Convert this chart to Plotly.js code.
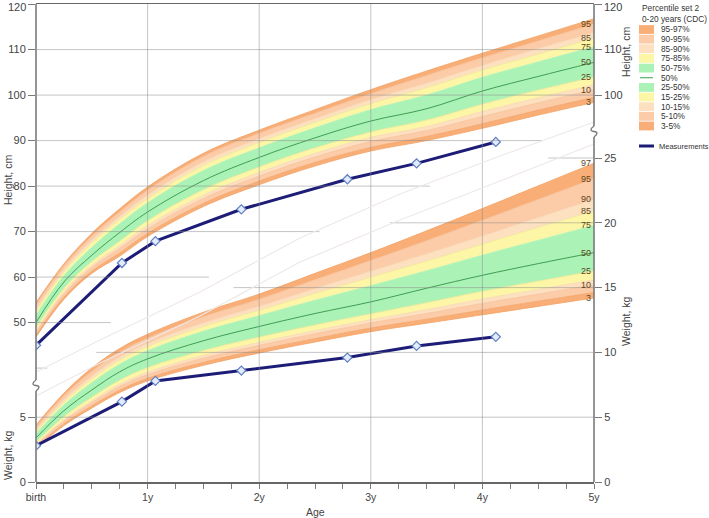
<!DOCTYPE html>
<html><head><meta charset="utf-8">
<script src="https://cdn.plot.ly/plotly-3.0.1.min.js"></script>
<style>html,body{margin:0;padding:0;background:#fff;}#chart{width:709px;height:518px;}</style>
</head><body><div id="chart"></div>
<script>
// ---------- DATA ----------
const ages = [0, 0.25, 0.5, 0.75, 1, 1.5, 2, 2.5, 3, 3.5, 4, 4.5, 5];

// Height percentiles (cm)
const hP3  = [46.8, 55.1, 60.8, 64.6, 68.9, 75.5, 80.3, 84.4, 87.7, 90.0, 92.7, 95.6, 98.4];
const hP5  = [47.2, 55.6, 61.3, 65.3, 69.6, 76.2, 81.1, 85.2, 88.5, 90.9, 93.7, 96.7, 99.5];
const hP10 = [47.8, 56.3, 62.1, 66.3, 70.6, 77.3, 82.2, 86.4, 89.8, 92.2, 95.3, 98.3, 101.2];
const hP15 = [48.2, 56.8, 62.6, 66.9, 71.3, 78.0, 83.0, 87.2, 90.7, 93.1, 96.4, 99.4, 102.3];
const hP25 = [48.9, 57.5, 63.4, 67.9, 72.4, 79.2, 84.2, 88.4, 91.9, 94.5, 98.0, 101.1, 104.0];
const hP50 = [50.0, 58.9, 64.8, 69.8, 74.3, 81.2, 86.3, 90.6, 94.3, 97.0, 100.9, 104.1, 107.2];
const hP75 = [51.6, 60.3, 66.5, 71.7, 76.3, 83.4, 88.4, 92.8, 96.8, 100.0, 103.9, 107.3, 110.6];
const hP85 = [52.4, 61.1, 67.5, 72.7, 77.3, 84.5, 89.6, 94.0, 98.1, 101.6, 105.5, 109.0, 112.5];
const hP90 = [53.0, 61.6, 68.1, 73.3, 78.0, 85.3, 90.4, 94.8, 99.0, 102.6, 106.5, 110.2, 113.7];
const hP95 = [53.9, 62.4, 69.0, 74.3, 79.1, 86.5, 91.6, 96.0, 100.3, 104.3, 108.2, 111.9, 115.6];
const hP97 = [54.4, 62.9, 69.6, 75.0, 79.8, 87.2, 92.3, 96.8, 101.2, 105.3, 109.2, 113.0, 116.8];

// Weight percentiles (kg)
const wP3  = [2.60, 4.35, 5.70, 6.90, 7.80, 9.00, 9.95, 10.80, 11.60, 12.25, 12.90, 13.55, 14.20];
const wP5  = [2.70, 4.48, 5.87, 7.09, 8.00, 9.23, 10.20, 11.06, 11.88, 12.56, 13.27, 13.95, 14.62];
const wP10 = [2.83, 4.68, 6.11, 7.36, 8.29, 9.55, 10.54, 11.44, 12.27, 13.00, 13.78, 14.50, 15.21];
const wP15 = [2.92, 4.80, 6.26, 7.54, 8.48, 9.76, 10.77, 11.68, 12.52, 13.30, 14.12, 14.86, 15.60];
const wP25 = [3.08, 5.04, 6.54, 7.86, 8.82, 10.14, 11.18, 12.12, 12.98, 13.84, 14.72, 15.50, 16.30];
const wP50 = [3.40, 5.50, 7.10, 8.50, 9.50, 10.90, 12.00, 13.00, 13.90, 14.95, 15.95, 16.85, 17.70];
const wP75 = [3.73, 5.95, 7.66, 9.09, 10.13, 11.63, 12.83, 14.02, 15.15, 16.30, 17.50, 18.65, 19.80];
const wP85 = [3.90, 6.18, 7.95, 9.40, 10.45, 12.00, 13.25, 14.55, 15.80, 17.05, 18.35, 19.65, 20.90];
const wP90 = [4.02, 6.35, 8.15, 9.62, 10.68, 12.26, 13.55, 14.92, 16.26, 17.60, 18.98, 20.40, 21.80];
const wP95 = [4.24, 6.65, 8.53, 10.01, 11.10, 12.75, 14.10, 15.60, 17.09, 18.62, 20.20, 21.80, 23.40];
const wP97 = [4.40, 6.85, 8.80, 10.30, 11.40, 13.10, 14.50, 16.10, 17.70, 19.38, 21.10, 22.85, 24.60];

// Measurements
const measAges    = [0, 0.77, 1.07, 1.84, 2.79, 3.41, 4.12];
const measHeights = [45.0, 63.1, 67.9, 74.9, 81.5, 85.0, 89.7];
const measWeights = [2.8, 6.2, 7.8, 8.6, 9.6, 10.5, 11.2];

// Tick labels
const xTickVals = [0, 1, 2, 3, 4, 5];
const xTickText = ['birth', '1y', '2y', '3y', '4y', '5y'];
const hLeftTicks = [50, 60, 70, 80, 90, 100, 110, 120];
const hLeftText  = ['50', '60', '70', '80', '90', '100', '110', ''];
const wLeftTicks = [0, 5];
const hRightTicks = [100, 110, 120];
const hRightText  = ['100', '110', ''];
const wRightTicks = [0, 5, 10, 15, 20, 25];
const topTickLabel = '120';

const pctNames = ['3','5','10','15','25','50','75','85','90','95','97'];
const hLabelPcts = ['95','85','75','50','25','10','3'];
const wLabelPcts = ['97','95','90','85','75','50','25','10','3'];
const legendLabels = ['95-97%','90-95%','85-90%','75-85%','50-75%','50%','25-50%','15-25%','10-15%','5-10%','3-5%'];

// ---------- STYLE ----------
const ORANGE='#f8ae76', PEACH='#fccba8', LPEACH='#fde0bf', YELLOW='#fcf6a6', GREEN='#abf2b6', MEDIAN='#3f9e52', NAVY='#1d1d78';
const fills = [null, ORANGE, PEACH, LPEACH, YELLOW, GREEN, GREEN, YELLOW, LPEACH, PEACH, ORANGE];
const edges = ['#f4a264','#f2a264','#f6c099','#f8d7b2','#efe796','#abf2b6','#abf2b6','#efe796','#f8d7b2','#f6c099','#f2a264','#f4a264'];
const legendColors = [ORANGE, PEACH, LPEACH, YELLOW, GREEN, null, GREEN, YELLOW, LPEACH, PEACH, ORANGE];

const HMIN = 120.02 - 478/4.55, HMAX = 120.02;
const WMIN = 0, WMAX = 478/12.96;
const PL = 36, PR = 594, PT = 4, PB = 482;
const px = x => (x - PL)/(PR - PL);
const py = y => (PB - y)/(PB - PT);

const hSeries = [hP3,hP5,hP10,hP15,hP25,hP50,hP75,hP85,hP90,hP95,hP97];
const wSeries = [wP3,wP5,wP10,wP15,wP25,wP50,wP75,wP85,wP90,wP95,wP97];
const SMOOTH = 1.1;

function bands(series, yax) {
  return series.map((s, i) => ({
    type:'scatter', mode:'lines', x:ages, y:s, yaxis:yax,
    line:{shape:'spline', smoothing:SMOOTH, width:0.8, color:edges[i]},
    fill: i === 0 ? 'none' : 'tonexty', fillcolor: fills[i] || undefined,
    hoverinfo:'skip', showlegend:false
  }));
}

const traces = [
  ...bands(hSeries, 'y'),
  {type:'scatter', mode:'lines', x:ages, y:hP50, yaxis:'y', line:{shape:'spline', smoothing:SMOOTH, width:1, color:MEDIAN}, hoverinfo:'skip'},
  ...bands(wSeries, 'y2'),
  {type:'scatter', mode:'lines', x:ages, y:wP50, yaxis:'y2', line:{shape:'spline', smoothing:SMOOTH, width:1, color:MEDIAN}, hoverinfo:'skip'},
  {type:'scatter', mode:'lines+markers', x:measAges, y:measHeights, yaxis:'y',
   line:{color:NAVY, width:3}, marker:{symbol:'diamond', size:7, color:'#e4ecfb', line:{color:'#5f7fc5', width:1.2}}},
  {type:'scatter', mode:'lines+markers', x:measAges, y:measWeights, yaxis:'y2',
   line:{color:NAVY, width:3}, marker:{symbol:'diamond', size:7, color:'#e4ecfb', line:{color:'#5f7fc5', width:1.2}}}
];

// ---------- SHAPES ----------
const GRID = 'rgba(140,140,140,0.5)';
const AX = '#7a7a7a';
const shapes = [];
[1,2,3,4].forEach(v => shapes.push({type:'line', xref:'x', yref:'paper', x0:v, x1:v, y0:0, y1:1, line:{color:GRID, width:1}, layer:'above'}));
const hGridVals = [40, 50, 60, 70, 80, 90, 100, 110];
const hGridEnd  = [0.1, 0.67, 1.55, 2.54, 3.53, 4.53, 5, 5];
hGridVals.forEach((v, i) => shapes.push({type:'line', xref:'x', yref:'y', x0:0, x1:hGridEnd[i], y0:v, y1:v, line:{color:GRID, width:1}, layer:'above'}));
const wGridVals  = [5, 10, 15, 20, 25];
const wGridStart = [0, 0.54, 1.77, 3.17, 4.59];
wGridVals.forEach((v, i) => shapes.push({type:'line', xref:'x', yref:'y2', x0:wGridStart[i], x1:5, y0:v, y1:v, line:{color:GRID, width:1}, layer:'above'}));

function pathFrom(pts) { return pts.map((p, i) => (i ? 'L' : 'M') + px(p[0]).toFixed(4) + ',' + py(p[1]).toFixed(4)).join(' '); }
const divA = [[36,372],[100,340],[200,292],[300,238],[400,194],[500,156],[594,122]];
const divB = [[36,396],[100,363],[200,316],[300,262],[400,220],[500,181],[594,144]];
[divA, divB].forEach(d => shapes.push({type:'path', xref:'paper', yref:'paper', path:pathFrom(d), line:{color:'#efe8e8', width:1.2}}));

shapes.push({type:'line', xref:'paper', yref:'paper', x0:0, x1:0, y0:py(PB), y1:py(391), line:{color:AX, width:1.6}});
shapes.push({type:'path', xref:'paper', yref:'paper', path:'M' + px(36) + ',' + py(391) + ' C' + px(40) + ',' + py(388) + ' ' + px(40) + ',' + py(386) + ' ' + px(36) + ',' + py(385.5) + ' C' + px(32) + ',' + py(385) + ' ' + px(32) + ',' + py(383) + ' ' + px(36) + ',' + py(380), line:{color:AX, width:1.3}});
shapes.push({type:'line', xref:'paper', yref:'paper', x0:0, x1:0, y0:py(380), y1:1, line:{color:AX, width:1.6}});
shapes.push({type:'line', xref:'paper', yref:'paper', x0:1, x1:1, y0:py(PB), y1:py(137), line:{color:AX, width:1.6}});
shapes.push({type:'path', xref:'paper', yref:'paper', path:'M' + px(594) + ',' + py(137) + ' C' + px(598) + ',' + py(134) + ' ' + px(598) + ',' + py(132) + ' ' + px(594) + ',' + py(131.5) + ' C' + px(590) + ',' + py(131) + ' ' + px(590) + ',' + py(129) + ' ' + px(594) + ',' + py(126), line:{color:AX, width:1.3}});
shapes.push({type:'line', xref:'paper', yref:'paper', x0:1, x1:1, y0:py(126), y1:1, line:{color:AX, width:1.6}});

// ---------- ANNOTATIONS ----------
const annotations = [];
const LBL = '#5b4722';
hLabelPcts.forEach(p => {
  const s = hSeries[pctNames.indexOf(p)];
  annotations.push({xref:'x', yref:'y', x:5, y:s[s.length-1], text:p, showarrow:false, xanchor:'right', yanchor:'middle', xshift:-1, font:{size:9, color:LBL}});
});
wLabelPcts.forEach(p => {
  const s = wSeries[pctNames.indexOf(p)];
  annotations.push({xref:'x', yref:'y2', x:5, y:s[s.length-1], text:p, showarrow:false, xanchor:'right', yanchor:'middle', xshift:-1, font:{size:9, color:LBL}});
});
const titleFont = {size:10.5, color:'#444'};
function ann(x, y, text, extra) {
  annotations.push(Object.assign({xref:'paper', yref:'paper', x:px(x), y:py(y), text, showarrow:false, xanchor:'center', yanchor:'middle'}, extra));
}
// top "120" tick labels, nudged down so they stay inside the picture
ann(28, 7, topTickLabel, {xanchor:'right', font:{size:11, color:'#444'}});
ann(602, 7, topTickLabel, {xanchor:'left', font:{size:11, color:'#444'}});

ann(8, 180, 'Height, cm', {textangle:-90, font:titleFont});
ann(8, 455, 'Weight, kg', {textangle:-90, font:titleFont});
ann(626, 52, 'Height, cm', {textangle:-90, font:titleFont});
ann(626, 321, 'Weight, kg', {textangle:-90, font:titleFont});
ann(315, 512, 'Age', {font:titleFont});

// legend (custom, compact)
const LF = {size:8.3, color:'#333'};
ann(640, 8, 'Percentile set 2', {xanchor:'left', font:LF});
ann(640, 19, '0-20 years (CDC)', {xanchor:'left', font:LF});
legendLabels.forEach((lab, i) => {
  const yc = 29.5 + i*9.65;
  if (legendColors[i]) {
    shapes.push({type:'rect', xref:'paper', yref:'paper', x0:px(639), x1:px(654), y0:py(yc-4.4), y1:py(yc+4.4), fillcolor:legendColors[i], line:{width:0}});
  } else {
    shapes.push({type:'line', xref:'paper', yref:'paper', x0:px(640), x1:px(653), y0:py(yc), y1:py(yc), line:{color:MEDIAN, width:1}});
  }
  ann(659, yc, lab, {xanchor:'left', font:LF});
});
shapes.push({type:'line', xref:'paper', yref:'paper', x0:px(639), x1:px(654), y0:py(146), y1:py(146), line:{color:NAVY, width:3}});
ann(657, 146, 'Measurements', {xanchor:'left', font:{size:7.5, color:'#333'}});

// ---------- LAYOUT ----------
const yTick = {ticks:'outside', ticklen:7, tickcolor:AX, tickwidth:1, showline:false, showgrid:false, zeroline:false,
               tickfont:{size:11, color:'#444'}, fixedrange:true};
const layout = {
  width:709, height:518,
  margin:{l:PL, r:709-PR, t:PT, b:518-PB, pad:0},
  paper_bgcolor:'#ffffff', plot_bgcolor:'#ffffff', showlegend:false,
  font:{family:'Liberation Sans, Arial, sans-serif', size:11, color:'#444'},
  xaxis:{range:[0,5], tickvals:xTickVals, ticktext:xTickText, ticks:'outside', ticklen:5, tickcolor:AX,
         showline:true, linecolor:'#666', linewidth:1.5, mirror:true, showgrid:false, zeroline:false,
         minor:{tick0:0, dtick:0.25, ticks:'outside', ticklen:5, tickcolor:AX, showgrid:false},
         tickfont:{size:10.5, color:'#444'}},
  yaxis:Object.assign({range:[HMIN,HMAX], tickvals:hLeftTicks, ticktext:hLeftText, side:'left'}, yTick),
  yaxis2:Object.assign({range:[WMIN,WMAX], tickvals:wLeftTicks, side:'left', overlaying:'y'}, yTick),
  yaxis3:Object.assign({range:[HMIN,HMAX], tickvals:hRightTicks, ticktext:hRightText, side:'right', overlaying:'y'}, yTick),
  yaxis4:Object.assign({range:[WMIN,WMAX], tickvals:wRightTicks, side:'right', overlaying:'y'}, yTick),
  shapes, annotations
};
traces.push({type:'scatter', x:[null], y:[null], yaxis:'y3', hoverinfo:'skip'});
traces.push({type:'scatter', x:[null], y:[null], yaxis:'y4', hoverinfo:'skip'});

Plotly.newPlot('chart', traces, layout, {staticPlot:true, displayModeBar:false});
</script>
</body></html>
